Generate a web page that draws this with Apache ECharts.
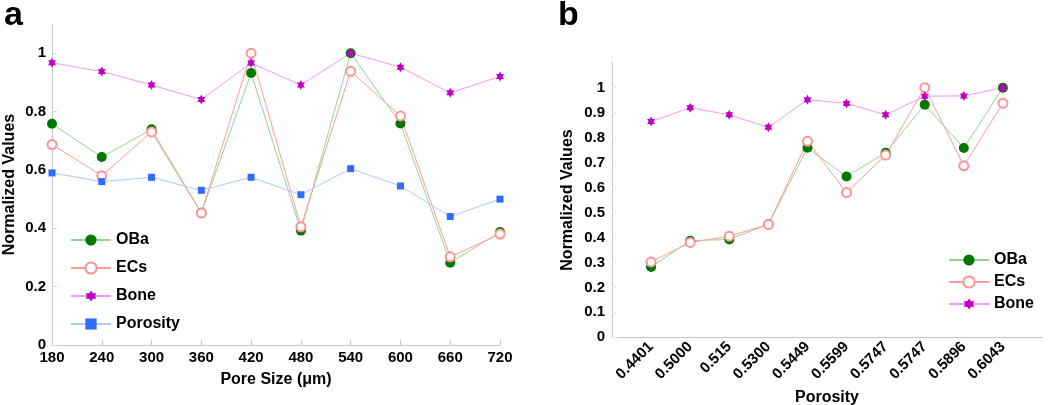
<!DOCTYPE html>
<html>
<head>
<meta charset="utf-8">
<script src="https://cdn.jsdelivr.net/npm/echarts@6/dist/echarts.min.js"></script>
<style>
html,body{margin:0;padding:0;background:#fff;}
#chart{width:1050px;height:405px;}
</style>
</head>
<body>
<div id="chart"></div>
<script>
// ---- Panel a data (by pore size) ----
const poreSizes = ['180','240','300','360','420','480','540','600','660','720'];
const obaA      = [0.758,0.644,0.739,0.453,0.932,0.392,1.000,0.759,0.282,0.387];
const ecsA      = [0.687,0.580,0.730,0.452,1.000,0.405,0.938,0.785,0.302,0.380];
const boneA     = [0.967,0.937,0.891,0.841,0.966,0.891,1.000,0.952,0.864,0.920];
const porosityA = [0.5896,0.5599,0.5747,0.5300,0.5747,0.515,0.6043,0.5449,0.4401,0.5000];

// ---- Panel b data (by porosity) ----
const porosityLabels = ['0.4401','0.5000','0.515','0.5300','0.5449','0.5599','0.5747','0.5747','0.5896','0.6043'];
const obaB  = [0.282,0.387,0.392,0.453,0.759,0.644,0.739,0.932,0.758,1.000];
const ecsB  = [0.302,0.380,0.405,0.452,0.785,0.580,0.730,1.000,0.687,0.938];
const boneB = [0.864,0.920,0.891,0.841,0.952,0.937,0.891,0.966,0.967,1.000];

const yTicksA = {min:0, max:1.1, interval:0.2};
const yTicksB = {min:0, max:1.1, interval:0.1};

const FONT = '"Liberation Sans", Arial, sans-serif';
const STAR = 'path://M10 0 L12.887 5 L18.66 5 L15.77 10 L18.66 15 L12.887 15 L10 20 L7.113 15 L1.34 15 L4.23 10 L1.34 5 L7.113 5 Z';

const styles = {
  OBa:      {symbol:'circle', size:10, marker:'#007800', line:'#93d493'},
  ECs:      {symbol:'emptyCircle', size:9, marker:'#ff9494', line:'#ff9a9a'},
  Bone:     {symbol:STAR, size:[9,10], marker:'#c000c0', line:'#f29af2'},
  Porosity: {symbol:'rect', size:7, marker:'#2f6bff', line:'#b0c8ff'}
};

function mkSeries(name, data, xi, yi){
  const s = styles[name];
  return {
    name: name, type:'line', xAxisIndex:xi, yAxisIndex:yi, data:data,
    symbol:s.symbol, symbolSize:s.size, symbolKeepAspect:true,
    showAllSymbol:true, animation:false,
    lineStyle:{color:s.line, width:1},
    itemStyle:{color:s.marker, borderWidth: name==='ECs'?1:0},
    emphasis:{disabled:true}
  };
}

const axisLine = {show:true, onZero:false, lineStyle:{color:'#c4c4c4', width:1}};
const tickLabel = {color:'#000', fontWeight:'bold', fontSize:15, fontFamily:FONT};
const nameStyle = {color:'#000', fontWeight:'bold', fontSize:16, fontFamily:FONT};

const option = {
  backgroundColor:'#fff',
  animation:false,
  title:[
    {text:'a', left:-1, top:-6, textStyle:{fontSize:34, fontWeight:'bold', color:'#000', fontFamily:FONT}},
    {text:'b', left:553, top:-6, textStyle:{fontSize:34, fontWeight:'bold', color:'#000', fontFamily:FONT}}
  ],
  grid:[
    {left:52, top:24, width:448, height:321, outerBoundsMode:'none', containLabel:false},
    {left:612, top:62.7, width:430, height:274.6, outerBoundsMode:'none', containLabel:false}
  ],
  legend:[
    {data:['OBa','ECs','Bone','Porosity'], orient:'vertical', left:70, top:232, padding:0,
     itemWidth:40, itemHeight:14, itemGap:12, selectedMode:false,
     textStyle:{color:'#000', fontWeight:'bold', fontSize:16, fontFamily:FONT}},
    {data:['OBa','ECs','Bone'], orient:'vertical', left:948, top:252, padding:0,
     itemWidth:40, itemHeight:14, itemGap:6, selectedMode:false,
     textStyle:{color:'#000', fontWeight:'bold', fontSize:16, fontFamily:FONT}}
  ],
  xAxis:[
    {type:'category', gridIndex:0, data:poreSizes, boundaryGap:false,
     name:'Pore Size (\u03bcm)', nameLocation:'middle', nameGap:27, nameTextStyle:nameStyle,
     axisLine:axisLine, axisTick:{show:true, inside:true, length:5, lineStyle:{color:'#c4c4c4'}},
     axisLabel:Object.assign({margin:5}, tickLabel), splitLine:{show:false}},
    {type:'value', gridIndex:1, min:-1, max:10, interval:1,
     name:'Porosity', nameLocation:'middle', nameGap:52, nameTextStyle:nameStyle,
     axisLine:axisLine, axisTick:{show:false},
     axisLabel:Object.assign({margin:7, rotate:45, showMinLabel:true, showMaxLabel:true,
       formatter:function(v){ return (v>=0 && v<porosityLabels.length) ? porosityLabels[v] : ''; }},
       tickLabel, {fontSize:15}),
     splitLine:{show:false}}
  ],
  yAxis:[
    {type:'value', gridIndex:0, min:yTicksA.min, max:yTicksA.max, interval:yTicksA.interval,
     name:'Normalized Values', nameLocation:'middle', nameGap:34, nameTextStyle:nameStyle,
     axisLine:axisLine, axisTick:{show:true, inside:true, length:5, lineStyle:{color:'#d4d4d4'}},
     axisLabel:Object.assign({margin:6, showMaxLabel:false}, tickLabel), splitLine:{show:false}},
    {type:'value', gridIndex:1, min:yTicksB.min, max:yTicksB.max, interval:yTicksB.interval,
     name:'Normalized Values', nameLocation:'middle', nameGap:36, nameTextStyle:nameStyle,
     axisLine:axisLine, axisTick:{show:true, inside:true, length:5, lineStyle:{color:'#ececec'}},
     axisLabel:Object.assign({margin:7, showMaxLabel:false}, tickLabel), splitLine:{show:false}}
  ],
  series:[
    mkSeries('OBa', obaA, 0, 0),
    mkSeries('ECs', ecsA, 0, 0),
    mkSeries('Bone', boneA, 0, 0),
    mkSeries('Porosity', porosityA, 0, 0),
    mkSeries('OBa', obaB.map((v,i)=>[i,v]), 1, 1),
    mkSeries('ECs', ecsB.map((v,i)=>[i,v]), 1, 1),
    mkSeries('Bone', boneB.map((v,i)=>[i,v]), 1, 1)
  ]
};

const chart = echarts.init(document.getElementById('chart'), null, {renderer:'canvas'});
chart.setOption(option);
</script>
</body>
</html>
